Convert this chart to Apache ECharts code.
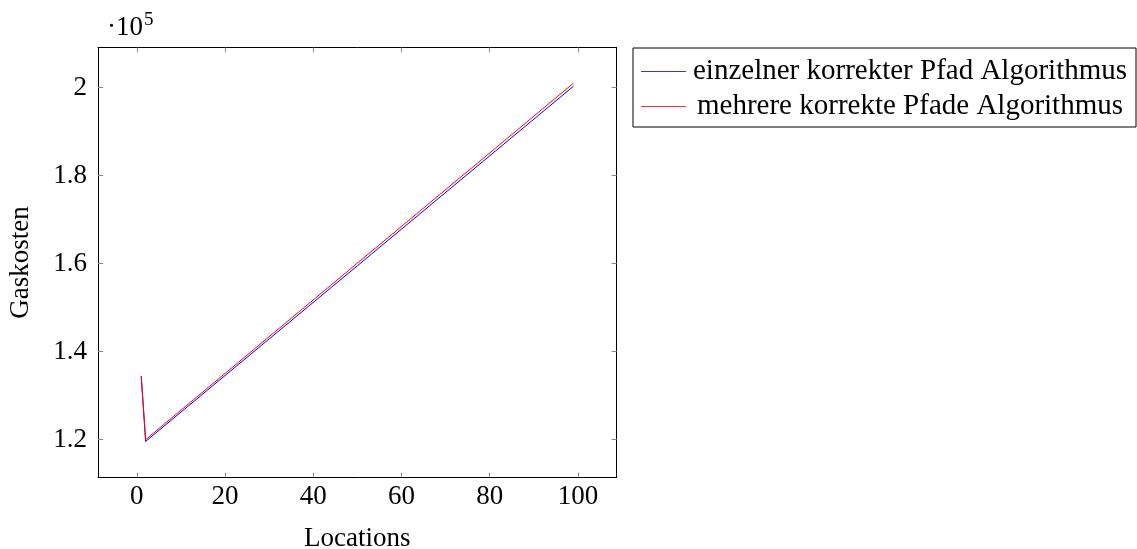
<!DOCTYPE html>
<html>
<head>
<meta charset="utf-8">
<script src="https://cdn.jsdelivr.net/npm/echarts@6/dist/echarts.min.js"></script>
<style>
  html, body { margin: 0; padding: 0; background: #fff; }
  #chart { width: 1137px; height: 549px; }
</style>
</head>
<body>
<div id="chart"></div>
<script>
// Werte
const locations = [1, 2, 50, 99]
const einzelnerPfad = [134400, 119600, 159500, 200300]
const mehrerePfade = [134400, 120000, 160100, 201000]
const xTicks = [0, 20, 40, 60, 80, 100]
const yTicks = [120000, 140000, 160000, 180000, 200000]
const seriesNames = ['einzelner korrekter Pfad Algorithmus', 'mehrere korrekte Pfade Algorithmus']
const colors = ['#0000ff', '#ff0000']

const FONT = '"Liberation Serif", "Times New Roman", serif'

const pairs = (xs, ys) => xs.map((x, i) => [x, ys[i]])

const chart = echarts.init(document.getElementById('chart'))

const tickStyle = {
  show: true,
  inside: true,
  length: 5,
  lineStyle: { color: '#888', width: 1 }
}

const xBase = {
  type: 'value',
  min: -8.8,
  max: 108.8,
  splitLine: { show: false },
  axisLine: { show: true, onZero: false, lineStyle: { color: '#000', width: 1 } }
}
const yBase = {
  type: 'value',
  min: 111400,
  max: 209100,
  splitLine: { show: false },
  axisLine: { show: true, onZero: false, lineStyle: { color: '#000', width: 1 } }
}

const option = {
  animation: false,
  grid: {
    left: 98,
    right: 520.3,
    top: 47.5,
    bottom: 71.5,
    containLabel: false,
    outerBoundsMode: 'none'
  },
  legend: {
    orient: 'vertical',
    left: 633,
    top: 48,
    padding: [9, 7, 6, 8],
    icon: 'rect',
    itemWidth: 45,
    itemHeight: 1,
    itemGap: 6,
    borderColor: '#000',
    borderWidth: 1,
    data: seriesNames.map((name, i) => ({
      name,
      itemStyle: { color: colors[i], opacity: 0.8 }
    })),
    formatter: name => '{t|' + name + '}',
    textStyle: {
      rich: {
        t: {
          width: 438,
          align: 'center',
          lineHeight: 32,
          fontSize: 29,
          fontFamily: FONT,
          color: '#000'
        }
      }
    }
  },
  graphic: [{
    type: 'text',
    left: 107,
    top: 11,
    style: {
      text: '{a|·10}{b|5}',
      rich: {
        a: { fontSize: 27, fontFamily: FONT, fill: '#000', lineHeight: 34 },
        b: { fontSize: 19, fontFamily: FONT, fill: '#000', verticalAlign: 'top', lineHeight: 34, padding: [0, 0, 12, 1] }
      }
    }
  }],
  xAxis: [
    {
      ...xBase,
      position: 'bottom',
      name: 'Locations',
      nameLocation: 'middle',
      nameGap: 48,
      nameTextStyle: { fontSize: 27, fontFamily: FONT, color: '#000' },
      axisTick: { ...tickStyle, customValues: xTicks },
      axisLabel: {
        customValues: xTicks,
        margin: 6,
        fontSize: 27,
        fontFamily: FONT,
        color: '#000'
      }
    },
    {
      ...xBase,
      position: 'top',
      axisTick: { ...tickStyle, customValues: xTicks },
      axisLabel: { show: false }
    }
  ],
  yAxis: [
    {
      ...yBase,
      position: 'left',
      name: 'Gaskosten',
      nameLocation: 'middle',
      nameGap: 64,
      nameTextStyle: { fontSize: 27, fontFamily: FONT, color: '#000' },
      axisTick: { ...tickStyle, customValues: yTicks },
      axisLabel: {
        customValues: yTicks,
        margin: 11,
        fontSize: 27,
        fontFamily: FONT,
        color: '#000',
        formatter: v => String(+(v / 1e5).toFixed(1))
      }
    },
    {
      ...yBase,
      position: 'right',
      axisTick: { ...tickStyle, customValues: yTicks },
      axisLabel: { show: false }
    }
  ],
  series: [
    {
      name: seriesNames[0],
      type: 'line',
      symbol: 'none',
      data: pairs(locations, einzelnerPfad),
      lineStyle: { color: colors[0], width: 1 },
      itemStyle: { color: colors[0] }
    },
    {
      name: seriesNames[1],
      type: 'line',
      symbol: 'none',
      data: pairs(locations, mehrerePfade),
      lineStyle: { color: colors[1], width: 1 },
      itemStyle: { color: colors[1] }
    }
  ]
}

chart.setOption(option)
</script>
</body>
</html>
